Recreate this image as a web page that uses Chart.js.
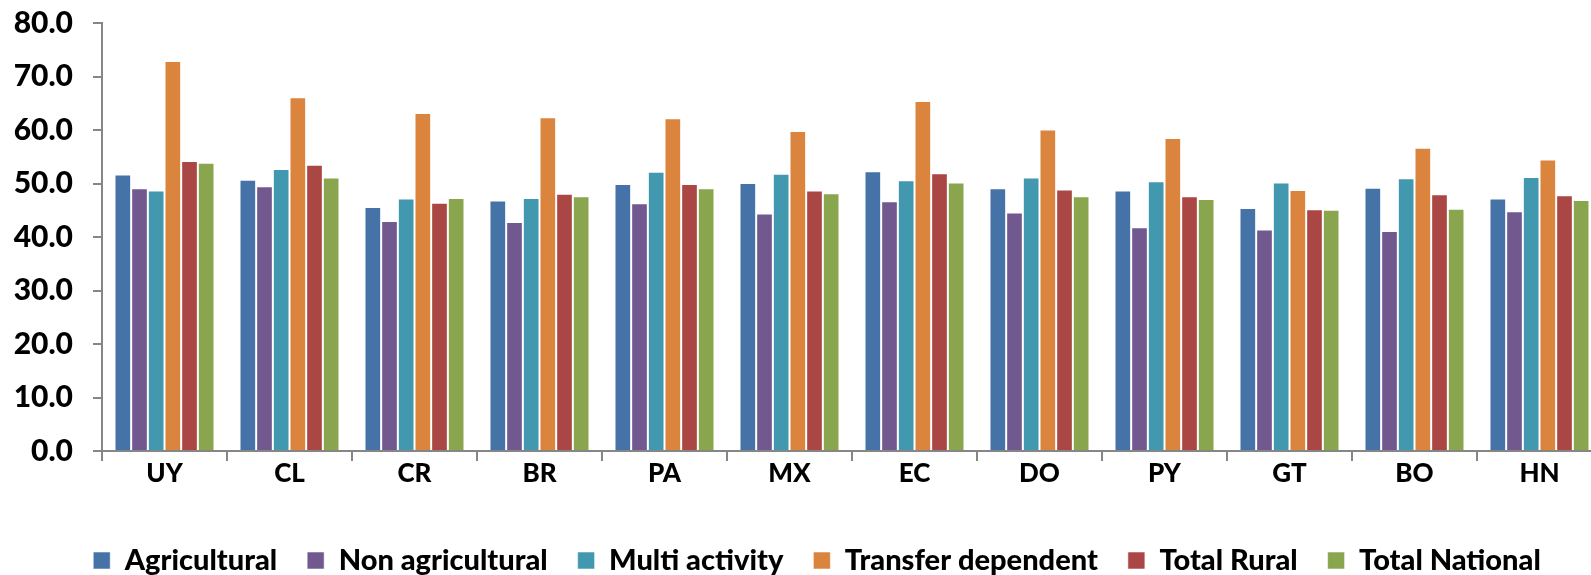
<!DOCTYPE html>
<html>
<head>
<meta charset="utf-8">
<script src="https://cdn.jsdelivr.net/npm/chart.js@4/dist/chart.umd.min.js"></script>
<style>
  html, body { margin: 0; padding: 0; background: #ffffff; overflow: hidden; }
  #wrap { position: absolute; left: 0; top: 0; width: 1604px; height: 575px; }
</style>
</head>
<body>
<div id="wrap"><canvas id="c" width="1604" height="575"></canvas></div>
<script>
const categories = ["UY", "CL", "CR", "BR", "PA", "MX", "EC", "DO", "PY", "GT", "BO", "HN"];
const seriesNames = ["Agricultural", "Non agricultural", "Multi activity", "Transfer dependent", "Total Rural", "Total National"];
const agricultural      = [51.7, 50.7, 45.6, 46.8, 49.9, 50.1, 52.3, 49.1, 48.7, 45.4, 49.2, 47.2];
const nonAgricultural   = [49.1, 49.5, 43.0, 42.8, 46.3, 44.4, 46.7, 44.6, 41.8, 41.4, 41.1, 44.8];
const multiActivity     = [48.7, 52.7, 47.2, 47.3, 52.2, 51.8, 50.6, 51.1, 50.4, 50.2, 51.0, 51.2];
const transferDependent = [72.9, 66.1, 63.2, 62.4, 62.2, 59.8, 65.4, 60.1, 58.5, 48.8, 56.7, 54.5];
const totalRural        = [54.2, 53.5, 46.4, 48.1, 49.9, 48.7, 51.9, 48.9, 47.6, 45.2, 48.0, 47.8];
const totalNational     = [53.9, 51.1, 47.3, 47.6, 49.1, 48.2, 50.2, 47.6, 47.1, 45.1, 45.3, 46.9];
const yTicks = [0, 10, 20, 30, 40, 50, 60, 70, 80];

const colors = ["#4572A7", "#71588F", "#4198AF", "#DB843D", "#AA4643", "#89A54E"];
const allSeries = [agricultural, nonAgricultural, multiActivity, transferDependent, totalRural, totalNational];

const FONT = "Lato, 'Open Sans', sans-serif";

// let the y tick labels use the space left of the (padded) y-scale box
const unclipYLabels = {
  id: 'unclipYLabels',
  afterLayout(chart) { chart.scales.y.left = 0; }
};

new Chart(document.getElementById('c'), {
  type: 'bar',
  data: {
    labels: categories,
    datasets: allSeries.map((d, i) => ({
      label: seriesNames[i],
      data: d,
      backgroundColor: colors[i],
      borderColor: 'rgba(255,255,255,0.55)',
      borderWidth: 1,
      categoryPercentage: 0.8,
      barPercentage: 1.0
    }))
  },
  plugins: [unclipYLabels],
  options: {
    responsive: false,
    animation: false,
    devicePixelRatio: 1,
    layout: { padding: { left: 32, right: 2, top: 0, bottom: -10 } },
    plugins: {
      tooltip: { enabled: false },
      legend: {
        position: 'bottom',
        labels: {
          color: '#000',
          font: { family: FONT, size: 29, weight: '900' },
          boxWidth: 17,
          boxHeight: 17,
          padding: 30
        }
      }
    },
    scales: {
      x: {
        offset: true,
        grid: { display: true, drawOnChartArea: false, offset: true, tickLength: 10, color: '#868686', lineWidth: 2 },
        border: { display: true, color: '#868686', width: 2 },
        ticks: { color: '#000', font: { family: FONT, size: 26, weight: '900', lineHeight: 1 }, padding: 0, maxRotation: 0 },
        afterFit: (s) => { s.height = 65; }
      },
      y: {
        min: 0,
        max: 80,
        afterBuildTicks: (s) => { s.ticks = yTicks.map(v => ({ value: v })); },
        grid: { display: true, drawOnChartArea: false, tickLength: 9, color: '#868686', lineWidth: 2 },
        border: { display: true, color: '#868686', width: 2 },
        ticks: { color: '#000', font: { family: FONT, size: 30, weight: '900', lineHeight: 1 }, padding: 20, callback: (v) => Number(v).toFixed(1) },
        afterFit: (s) => { s.width = 70; s.paddingTop = 23; }
      }
    }
  }
});
</script>
</body>
</html>
